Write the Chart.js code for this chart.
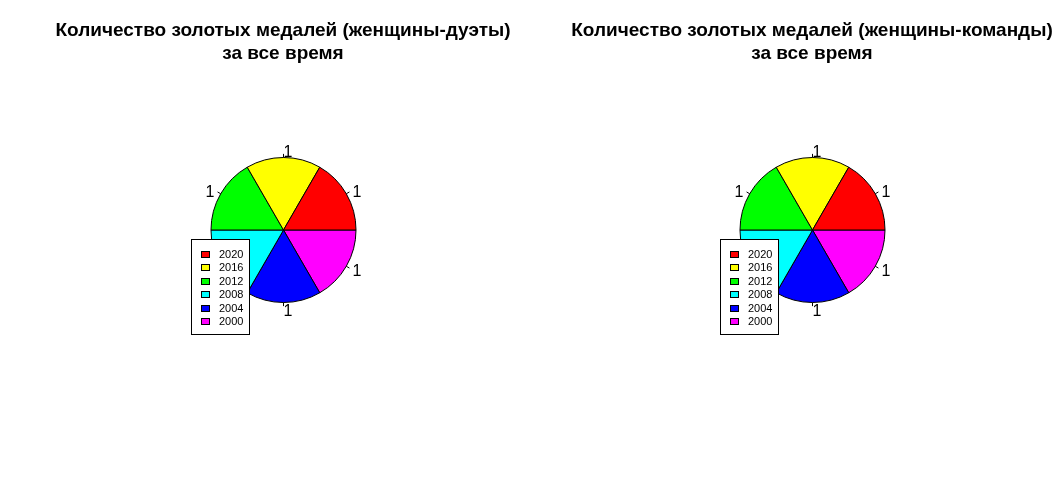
<!DOCTYPE html>
<html>
<head>
<meta charset="utf-8">
<script src="https://cdn.jsdelivr.net/npm/chart.js@4/dist/chart.umd.min.js"></script>
<style>
  html, body { margin: 0; padding: 0; background: #fff; }
  #wrap { position: relative; width: 1058px; height: 481px; background: #fff; }
  .pane { position: absolute; top: 0; width: 529px; height: 481px; }
</style>
</head>
<body>
<div id="wrap">
  <div class="pane" style="left:0"><canvas id="c1" width="529" height="481"></canvas></div>
  <div class="pane" style="left:529px"><canvas id="c2" width="529" height="481"></canvas></div>
</div>
<script>
// ---- data ----
const years = ['2020', '2016', '2012', '2008', '2004', '2000'];
const duetGolds = [1, 1, 1, 1, 1, 1];
const teamGolds = [1, 1, 1, 1, 1, 1];
const sliceColors = ['#FF0000', '#FFFF00', '#00FF00', '#00FFFF', '#0000FF', '#FF00FF'];
const duetTitle = ['Количество золотых медалей (женщины-дуэты)', 'за все время'];
const teamTitle = ['Количество золотых медалей (женщины-команды)', 'за все время'];

const FONT = '"Liberation Sans", Arial, sans-serif';

// R draws slices counter-clockwise from 3 o'clock; Chart.js goes clockwise,
// so feed the slices in reverse order and start at 3 o'clock.
function rev(a) { return a.slice().reverse(); }

const titleBlock = {
  id: 'titleBlock',
  afterDraw(chart, args, opts) {
    const ctx = chart.ctx;
    ctx.save();
    ctx.fillStyle = '#000';
    ctx.font = 'bold 19px ' + FONT;
    ctx.textAlign = 'center';
    ctx.textBaseline = 'middle';
    opts.text.forEach((line, i) => ctx.fillText(line, 283, 31 + i * 23));
    ctx.restore();
  }
};

const sliceLabels = {
  id: 'sliceLabels',
  afterDatasetsDraw(chart) {
    const ctx = chart.ctx;
    const meta = chart.getDatasetMeta(0);
    const data = chart.data.datasets[0].data;
    ctx.save();
    ctx.strokeStyle = '#000';
    ctx.lineWidth = 1;
    ctx.fillStyle = '#000';
    ctx.font = '16px ' + FONT;
    ctx.textBaseline = 'middle';
    meta.data.forEach((arc, i) => {
      const p = arc.getProps(['x', 'y', 'startAngle', 'endAngle', 'outerRadius'], true);
      const mid = (p.startAngle + p.endAngle) / 2;
      const c = Math.cos(mid), s = Math.sin(mid);
      ctx.beginPath();
      ctx.moveTo(p.x + c * p.outerRadius, p.y + s * p.outerRadius);
      ctx.lineTo(p.x + c * p.outerRadius * 1.05, p.y + s * p.outerRadius * 1.05);
      ctx.stroke();
      const tx = p.x + c * p.outerRadius * 1.1;
      const ty = p.y + s * p.outerRadius * 1.1 + 2;
      ctx.textAlign = c > 0.0001 ? 'left' : (c < -0.0001 ? 'right' : 'left');
      ctx.fillText(String(data[i]), tx, ty);
    });
    ctx.restore();
  }
};

const boxLegend = {
  id: 'boxLegend',
  afterDraw(chart) {
    const ctx = chart.ctx;
    const x0 = 191.5, y0 = 239.5, w = 58, h = 95;
    ctx.save();
    ctx.fillStyle = '#fff';
    ctx.fillRect(x0, y0, w, h);
    ctx.strokeStyle = '#000';
    ctx.lineWidth = 1;
    ctx.strokeRect(x0, y0, w, h);
    ctx.font = '11px ' + FONT;
    ctx.textBaseline = 'middle';
    ctx.textAlign = 'left';
    years.forEach((y, i) => {
      const cy = 254 + i * 13.5;
      ctx.fillStyle = sliceColors[i];
      ctx.fillRect(201.5, Math.round(cy - 3.5) + 0.5, 8, 6);
      ctx.strokeRect(201.5, Math.round(cy - 3.5) + 0.5, 8, 6);
      ctx.fillStyle = '#000';
      ctx.fillText(y, 219, cy + 0.5);
    });
    ctx.restore();
  }
};

function makePie(id, values, title) {
  return new Chart(document.getElementById(id), {
    type: 'pie',
    data: {
      labels: rev(years),
      datasets: [{
        data: rev(values),
        backgroundColor: rev(sliceColors),
        borderColor: '#000',
        borderWidth: 1
      }]
    },
    options: {
      responsive: false,
      animation: false,
      events: [],
      rotation: 90,
      radius: 72.5,
      layout: { padding: { left: 138, right: 100, top: 74, bottom: 95 } },
      plugins: {
        legend: { display: false },
        tooltip: { enabled: false },
        title: { display: false },
        titleBlock: { text: title }
      }
    },
    plugins: [sliceLabels, boxLegend, titleBlock]
  });
}

makePie('c1', duetGolds, duetTitle);
makePie('c2', teamGolds, teamTitle);
</script>
</body>
</html>
